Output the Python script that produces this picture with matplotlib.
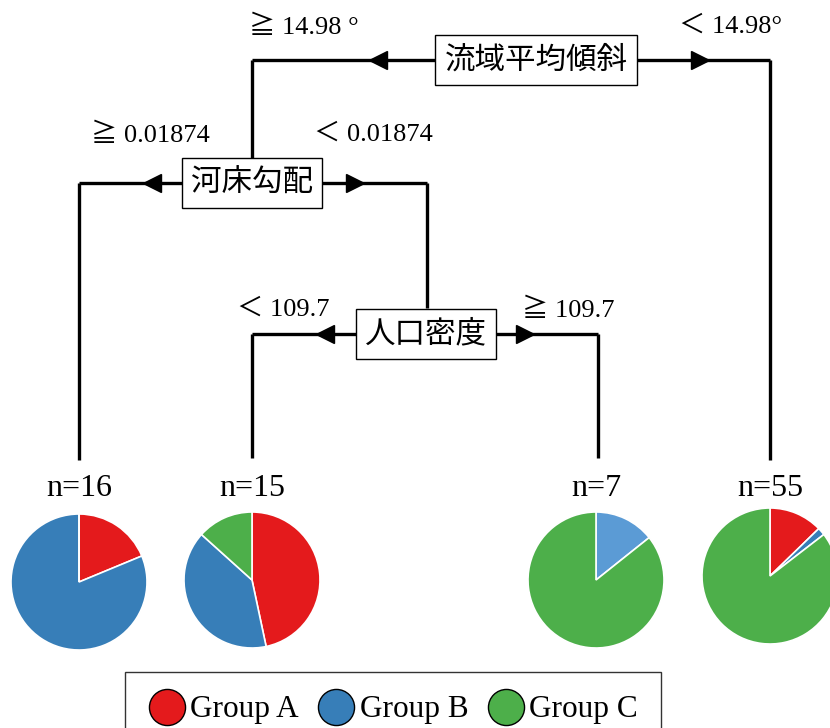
import matplotlib.pyplot as plt
from matplotlib.lines import Line2D

# leaf data: sample count per group (A, B, C)
groups = ["Group A", "Group B", "Group C"]
colors = ["#e41a1c", "#377eb8", "#4daf4a"]
leaf_names = ["n=16", "n=15", "n=7", "n=55"]
leaf_counts = [[3, 13, 0], [7, 6, 2], [0, 1, 6], [7, 1, 47]]
leaf_colors = [colors, colors, ["#e41a1c", "#5b9bd5", "#4daf4a"], colors]

# split nodes
node_names = ["流域平均傾斜", "河床勾配", "人口密度"]
left_labels = ["≧ 14.98 °", "≧ 0.01874", "＜ 109.7"]
right_labels = ["＜ 14.98°", "＜ 0.01874", "≧ 109.7"]

W, H = 830, 728
serif = ["Liberation Serif", "Noto Sans CJK JP"]
cjk = ["Noto Sans CJK JP", "Liberation Serif"]

fig = plt.figure(figsize=(W / 100, H / 100), dpi=100)
ax = fig.add_axes([0, 0, 1, 1])

# layout (pixel coordinates, y downward)
node_xy = [(536, 60), (252, 183), (426, 334)]
node_span = [(252, 770), (79, 427), (252, 598)]
arrow_x = [(378, 700), (152, 355), (325, 525)]
leaf_x = [79, 252, 596, 770]
leaf_cy = [582, 580, 580, 576]
R = 68
lw = 2.4

def vline(x, y0, y1):
    ax.plot([x, x], [y0, y1], color="black", lw=lw, solid_capstyle="butt")

for i, (name, (cx, cy)) in enumerate(zip(node_names, node_xy)):
    x0, x1 = node_span[i]
    ax.plot([x0, x1], [cy, cy], color="black", lw=lw, solid_capstyle="butt")
    ax.plot(arrow_x[i][0], cy, marker="<", color="black", ms=13)
    ax.plot(arrow_x[i][1], cy, marker=">", color="black", ms=13)
    ax.text(cx, cy, name, ha="center", va="center", fontsize=22, family=cjk,
            bbox=dict(boxstyle="square,pad=0.3", fc="white", ec="black", lw=1))

# tree connections
vline(252, 60, 160)
vline(770, 60, 460)
vline(79, 183, 460)
vline(427, 183, 308)
vline(252, 334, 458)
vline(598, 334, 458)

# branch conditions
lab_y = [27, 135, 310]
lab_left_x = [304, 150, 283]
lab_right_x = [730, 373, 568]
for i in range(3):
    ax.text(lab_left_x[i], lab_y[i], left_labels[i], ha="center", va="center", fontsize=19, family=serif)
    ax.text(lab_right_x[i], lab_y[i], right_labels[i], ha="center", va="center", fontsize=19, family=serif)

# leaves
for x, cy, name, counts, cols in zip(leaf_x, leaf_cy, leaf_names, leaf_counts, leaf_colors):
    ax.text(x, 489, name, ha="center", va="center", fontsize=23, family=serif)
    # y axis is inverted, so startangle=-90 + counterclock draws clockwise from the top
    ax.pie(counts, colors=cols, center=(x, cy), radius=R, startangle=-90, counterclock=True,
           wedgeprops=dict(edgecolor="white", linewidth=1.2), frame=True)

ax.set_xlim(0, W)
ax.set_ylim(H, 0)
ax.set_aspect("equal")
ax.axis("off")

handles = [Line2D([], [], ls="", marker="o", ms=26, mfc=c, mec="black", mew=1) for c in colors]
leg = ax.legend(handles, groups, loc="upper center", bbox_to_anchor=(393 / W, 1 - 672 / H),
                ncol=3, frameon=True, fancybox=False, edgecolor="black",
                prop={"family": serif, "size": 22.5}, handletextpad=0.15, columnspacing=0.6,
                handlelength=1.2, borderpad=0.75, borderaxespad=0)
leg.get_frame().set_linewidth(1)

fig.savefig("out.png", dpi=100)
